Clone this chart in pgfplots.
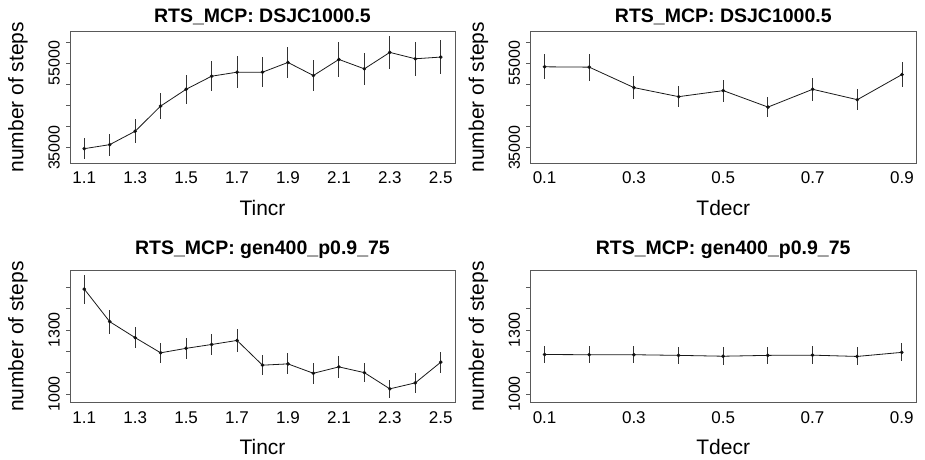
\documentclass[border=0pt]{standalone}
\usepackage{pgfplots}
\pgfplotsset{compat=1.18}
\usepackage{pgfplotstable}
\usepackage{fontspec}
\setmainfont{Liberation Sans}

\pgfplotstableread{
x y e
1.1 34762 2540
1.2 35714 2619
1.3 38889 2857
1.4 44842 3095
1.5 48810 3492
1.6 51905 3571
1.7 52857 3730
1.8 52857 3571
1.9 55159 3730
2.0 52064 3651
2.1 55873 4048
2.2 53651 3730
2.3 57540 3968
2.4 56032 3968
2.5 56429 3968
}\tableA

\pgfplotstableread{
x y e
0.1 54127 2976
0.2 54048 3175
0.3 49207 2738
0.4 47064 2540
0.5 48493 2619
0.6 44603 2460
0.7 48810 2698
0.8 46350 2460
0.9 52302 2937
}\tableB

\pgfplotstableread{
x y e
1.1 1492 68
1.2 1339 56
1.3 1264 50
1.4 1193 47
1.5 1214 49
1.6 1232 47
1.7 1251 52
1.8 1135 48
1.9 1141 49
2.0 1097 49
2.1 1127 52
2.2 1100 46
2.3 1024 42
2.4 1052 47
2.5 1149 50
}\tableC

\pgfplotstableread{
x y e
0.1 1185 39
0.2 1184 41
0.3 1184 41
0.4 1181 41
0.5 1177 41
0.6 1181 41
0.7 1182 42
0.8 1176 42
0.9 1195 42
}\tableD

\pgfplotsset{
 panel/.style={
  scale only axis, anchor=south west,
  axis line style={draw=black!65, line width=1pt},
  tick pos=left,
  scaled ticks=false,
  xtick style={draw=none},
  major tick length=4pt,
  ytick style={draw=black!65, line width=0.8pt, xshift=-4pt},
  /pgf/number format/assume math mode=true,
  xticklabel style={font=\fontsize{17}{17}\selectfont, anchor=north, inner sep=0pt, yshift=-8.4pt},
  yticklabel style={font=\fontsize{16}{16}\selectfont, xshift=-10pt, rotate=90, anchor=south, inner sep=0pt},
  xlabel style={font=\fontsize{21}{21}\selectfont, at={(axis description cs:0.5,0)}, anchor=north, inner sep=0pt, yshift=-36.7pt},
  ylabel style={font=\fontsize{21}{21}\selectfont, at={([xshift=-42pt]axis description cs:0,0.5)}, anchor=south, inner sep=0pt},
  title style={font=\bfseries\fontsize{19.5}{19.5}\selectfont, at={(axis description cs:0.5,1)}, anchor=base, inner sep=0pt, yshift=3pt},
  ylabel={number of steps},
 },
 topy/.style={ymin=31300, ymax=62600, ytick={35000,40000,45000,50000,55000,60000}, yticklabels={35000,,,,55000,}},
 boty/.style={ymin=959, ymax=1578, ytick={1000,1100,1200,1300,1400,1500}, yticklabels={1000,,,1300,,}},
 tx/.style={xmin=1.044, xmax=2.556, xtick={1.1,1.3,1.5,1.7,1.9,2.1,2.3,2.5}, xticklabels={1.1,1.3,1.5,1.7,1.9,2.1,2.3,2.5}, xlabel={Tincr}},
 dx/.style={xmin=0.068, xmax=0.932, xtick={0.1,0.3,0.5,0.7,0.9}, xticklabels={0.1,0.3,0.5,0.7,0.9}, xlabel={Tdecr}},
 ser/.style={black!90, line width=0.8pt, mark=*, mark size=1.4pt, mark options={solid, fill=black},
   error bars/.cd, y dir=both, y explicit, error mark=none, error bar style={line width=1pt, black!80}},
}

\begin{document}
\begin{tikzpicture}
\useasboundingbox (0,0) rectangle (925pt,459pt);
\begin{axis}[panel, topy, tx, at={(70pt,295.7pt)}, width=385pt, height=132.3pt, title={RTS\_MCP: DSJC1000.5}]
\addplot[ser] table[x=x, y=y, y error=e] {\tableA};
\end{axis}
\begin{axis}[panel, topy, dx, at={(530.3pt,295.7pt)}, width=386pt, height=132.3pt, title={RTS\_MCP: DSJC1000.5}]
\addplot[ser] table[x=x, y=y, y error=e] {\tableB};
\end{axis}
\begin{axis}[panel, boty, tx, at={(70pt,56.3pt)}, width=385pt, height=132pt, title={RTS\_MCP: gen400\_p0.9\_75}, title style={yshift=7.4pt}]
\addplot[ser] table[x=x, y=y, y error=e] {\tableC};
\end{axis}
\begin{axis}[panel, boty, dx, at={(530.3pt,56.3pt)}, width=385.7pt, height=132pt, title={RTS\_MCP: gen400\_p0.9\_75}, title style={yshift=7.4pt}]
\addplot[ser] table[x=x, y=y, y error=e] {\tableD};
\end{axis}
\end{tikzpicture}
\end{document}
